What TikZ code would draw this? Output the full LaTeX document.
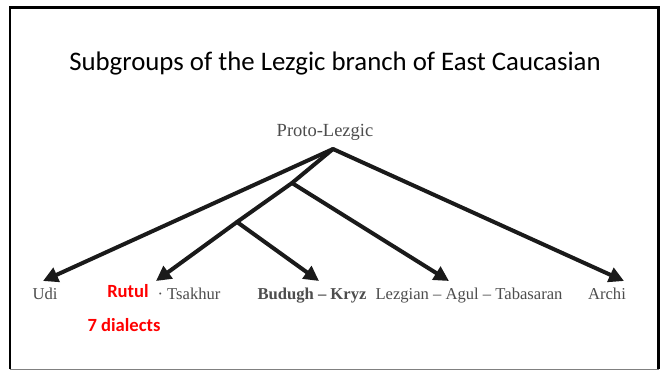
\documentclass[tikz,border=0pt]{standalone}
\usepackage{fontspec}
\setmainfont{Liberation Serif}
\newfontfamily\slidefont{Carlito}
\usetikzlibrary{arrows.meta}
\definecolor{treegray}{HTML}{4D4D4D}
\definecolor{treeink}{HTML}{1A1A1A}
\definecolor{notered}{HTML}{FF0000}
\begin{document}
\begin{tikzpicture}[x=1pt,y=-1pt,
  leaf/.style={font=\fontsize{16.6}{19}\selectfont, text=treegray, inner sep=0pt, anchor=base},
  note/.style={font=\slidefont\bfseries\fontsize{18.6}{21}\selectfont, text=notered, inner sep=0pt, anchor=base},
  branch/.style={draw=treeink, line width=4pt, line cap=round},
  arrowbranch/.style={branch, line cap=butt, -{Triangle[length=15pt,width=15pt]}}]
\useasboundingbox (0,0) rectangle (666,370);
\fill[white] (0,0) rectangle (666,370);
% slide frame
\draw[line width=2.6pt] (10,369) -- (10,7.5) -- (658.5,7.5) -- (658.5,369);
\draw[gray, line width=0.8pt] (10,369.3) -- (658.5,369.3);
% title
\node[font=\slidefont\fontsize{26.8}{30}\selectfont, inner sep=0pt, anchor=base] (title) at (335,70) {Subgroups of the Lezgic branch of East Caucasian};
% tree
\node[leaf, font=\fontsize{18.5}{21}\selectfont] (proto) at (325,136) {Proto-Lezgic};
\coordinate (apex) at (333,149);
\coordinate (b1) at (292,183);
\coordinate (b2) at (237,222);
\node[leaf] (udi) at (45,299) {Udi};
\node[leaf] (tsakhur) at (189,299) {\textperiodcentered\ Tsakhur};
\node[leaf, font=\fontsize{16.6}{19}\selectfont\bfseries] (budugh) at (312,299) {Budugh – Kryz};
\node[leaf] (lezgian) at (469,299) {Lezgian – Agul – Tabasaran};
\node[leaf] (archi) at (607,299) {Archi};
\coordinate (tudi) at (43,281);
\coordinate (ttsakhur) at (156,281);
\coordinate (tbudugh) at (319,281);
\coordinate (tlezgian) at (449,281);
\coordinate (tarchi) at (624,281);
\draw[branch] (apex) -- (b1) -- (b2);
\draw[arrowbranch] (apex) -- (tudi);
\draw[arrowbranch] (b2) -- (ttsakhur);
\draw[arrowbranch] (b2) -- (tbudugh);
\draw[arrowbranch] (b1) -- (tlezgian);
\draw[arrowbranch] (apex) -- (tarchi);
% annotations
\node[note] (rutul) at (128,297) {Rutul};
\node[note] (dialects) at (124,331) {7 dialects};
\end{tikzpicture}
\end{document}
